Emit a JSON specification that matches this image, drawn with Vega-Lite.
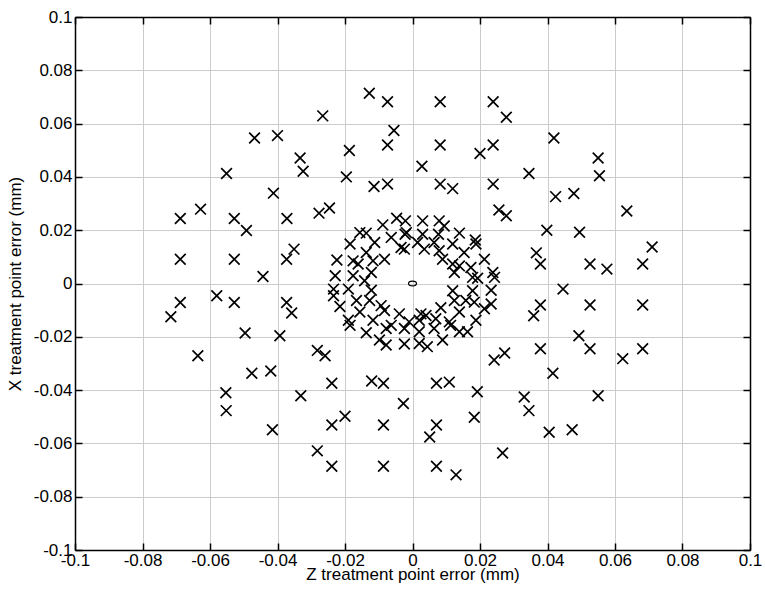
{
  "$schema": "https://vega.github.io/schema/vega-lite/v6.json",
  "width": 675,
  "height": 533,
  "autosize": "none",
  "padding": {"left": 75, "top": 17, "right": 15, "bottom": 44},
  "background": "white",
  "config": {
    "view": {"stroke": null},
    "axis": {
      "domainColor": "black",
      "domainWidth": 1.5,
      "tickColor": "black",
      "tickWidth": 1.5,
      "tickSize": -7,
      "labelFont": "Liberation Sans",
      "labelFontSize": 17,
      "labelColor": "black",
      "labelFlush": false,
      "labelOverlap": false,
      "titleFont": "Liberation Sans",
      "titleFontSize": 17,
      "titleFontWeight": "normal",
      "titleColor": "black",
      "gridColor": "#cccccc",
      "gridWidth": 1,
      "gridOpacity": 1
    }
  },
  "layer": [
    {
      "data": {"values": [
        {"x": -0.0468, "y": 0.0546}, {"x": -0.040, "y": 0.0555}, {"x": -0.0333, "y": 0.0471}, {"x": -0.0324, "y": 0.0421},
        {"x": -0.0551, "y": 0.0413}, {"x": -0.0412, "y": 0.0339}, {"x": -0.0628, "y": 0.0279}, {"x": -0.0688, "y": 0.0244},
        {"x": -0.0528, "y": 0.0244}, {"x": -0.0492, "y": 0.0199}, {"x": -0.0372, "y": 0.0244}, {"x": -0.0351, "y": 0.0129},
        {"x": -0.0373, "y": 0.0091}, {"x": -0.0688, "y": 0.0091}, {"x": -0.0528, "y": 0.0091}, {"x": -0.0443, "y": 0.0026},
        {"x": -0.0266, "y": 0.0629}, {"x": -0.0128, "y": 0.0714}, {"x": -0.0074, "y": 0.0682}, {"x": 0.0082, "y": 0.0682},
        {"x": 0.0239, "y": 0.0682}, {"x": 0.0278, "y": 0.0624}, {"x": -0.0055, "y": 0.0574}, {"x": -0.0074, "y": 0.052},
        {"x": 0.0082, "y": 0.052}, {"x": 0.0239, "y": 0.052}, {"x": 0.020, "y": 0.0488}, {"x": -0.0187, "y": 0.0499},
        {"x": 0.0028, "y": 0.044}, {"x": -0.0196, "y": 0.040}, {"x": -0.0114, "y": 0.0364}, {"x": -0.0074, "y": 0.0373},
        {"x": 0.0082, "y": 0.0373}, {"x": 0.0119, "y": 0.0356}, {"x": 0.0239, "y": 0.0373}, {"x": -0.0277, "y": 0.0264},
        {"x": -0.0246, "y": 0.0283}, {"x": 0.0256, "y": 0.0276}, {"x": 0.0278, "y": 0.0254},
        {"x": 0.0419, "y": 0.0546}, {"x": 0.055, "y": 0.0471}, {"x": 0.0554, "y": 0.0404}, {"x": 0.0345, "y": 0.0413},
        {"x": 0.0424, "y": 0.0326}, {"x": 0.0478, "y": 0.0338}, {"x": 0.0635, "y": 0.0272}, {"x": 0.0398, "y": 0.020},
        {"x": 0.0495, "y": 0.0192}, {"x": 0.0367, "y": 0.0115}, {"x": 0.0379, "y": 0.0073}, {"x": 0.0526, "y": 0.0073},
        {"x": 0.0576, "y": 0.0054}, {"x": 0.0682, "y": 0.0073}, {"x": 0.071, "y": 0.0137},
        {"x": -0.0688, "y": -0.0071}, {"x": -0.0716, "y": -0.0125}, {"x": -0.058, "y": -0.0046}, {"x": -0.0528, "y": -0.0071},
        {"x": -0.0373, "y": -0.0071}, {"x": -0.0358, "y": -0.0111}, {"x": -0.0496, "y": -0.0186}, {"x": -0.0393, "y": -0.0196},
        {"x": -0.0636, "y": -0.0271}, {"x": -0.0476, "y": -0.0337}, {"x": -0.042, "y": -0.0328}, {"x": -0.0553, "y": -0.041},
        {"x": -0.0552, "y": -0.0477}, {"x": -0.0331, "y": -0.0421}, {"x": -0.0415, "y": -0.0549},
        {"x": -0.0282, "y": -0.0251}, {"x": -0.0259, "y": -0.0271}, {"x": -0.0239, "y": -0.0374}, {"x": -0.0121, "y": -0.0366},
        {"x": -0.0086, "y": -0.0374}, {"x": 0.0071, "y": -0.0374}, {"x": 0.0109, "y": -0.037}, {"x": 0.0242, "y": -0.0287},
        {"x": 0.0273, "y": -0.0261}, {"x": 0.0192, "y": -0.0406}, {"x": -0.0027, "y": -0.045}, {"x": -0.020, "y": -0.0498},
        {"x": -0.0239, "y": -0.0531}, {"x": -0.0086, "y": -0.0531}, {"x": 0.0071, "y": -0.0531}, {"x": 0.0051, "y": -0.0576},
        {"x": 0.0183, "y": -0.0502}, {"x": -0.0282, "y": -0.0628}, {"x": -0.0239, "y": -0.0686}, {"x": -0.0086, "y": -0.0686},
        {"x": 0.0071, "y": -0.0686}, {"x": 0.0129, "y": -0.0718}, {"x": 0.0267, "y": -0.0636},
        {"x": 0.0446, "y": -0.0021}, {"x": 0.0379, "y": -0.0081}, {"x": 0.0359, "y": -0.0121}, {"x": 0.0526, "y": -0.0081},
        {"x": 0.0682, "y": -0.0081}, {"x": 0.0493, "y": -0.0196}, {"x": 0.0379, "y": -0.0245}, {"x": 0.0526, "y": -0.0245},
        {"x": 0.0682, "y": -0.0245}, {"x": 0.0623, "y": -0.0282}, {"x": 0.0416, "y": -0.0337}, {"x": 0.0331, "y": -0.0426},
        {"x": 0.0345, "y": -0.0477}, {"x": 0.055, "y": -0.0421}, {"x": 0.0405, "y": -0.0558}, {"x": 0.0473, "y": -0.0549},
        {"x": -0.0047, "y": 0.0245}, {"x": -0.0021, "y": 0.0235}, {"x": 0.003, "y": 0.0235}, {"x": 0.0079, "y": 0.0235},
        {"x": 0.0094, "y": 0.0216}, {"x": -0.0088, "y": 0.022}, {"x": -0.0018, "y": 0.0191}, {"x": -0.0022, "y": 0.0185},
        {"x": -0.0156, "y": 0.0191}, {"x": -0.0137, "y": 0.0189}, {"x": 0.0139, "y": 0.0189}, {"x": 0.003, "y": 0.0185},
        {"x": 0.0077, "y": 0.0185}, {"x": -0.0063, "y": 0.0173}, {"x": -0.0185, "y": 0.0148}, {"x": -0.0112, "y": 0.0154},
        {"x": -0.0034, "y": 0.0135}, {"x": -0.0024, "y": 0.0129}, {"x": 0.0015, "y": 0.0154}, {"x": 0.0035, "y": 0.0129},
        {"x": 0.0064, "y": 0.0154}, {"x": 0.0119, "y": 0.0148}, {"x": 0.0186, "y": 0.0163}, {"x": 0.0188, "y": 0.0148},
        {"x": -0.0137, "y": 0.0116}, {"x": -0.0083, "y": 0.0091}, {"x": 0.0079, "y": 0.0123}, {"x": 0.0089, "y": 0.0091},
        {"x": 0.0153, "y": 0.0116}, {"x": -0.0224, "y": 0.0088}, {"x": -0.0176, "y": 0.0085}, {"x": -0.0161, "y": 0.0073},
        {"x": -0.0117, "y": 0.0085}, {"x": 0.0119, "y": 0.0073}, {"x": 0.0139, "y": 0.0066}, {"x": 0.0173, "y": 0.006},
        {"x": 0.0213, "y": 0.0091}, {"x": -0.0229, "y": 0.0029}, {"x": -0.0176, "y": 0.0029}, {"x": -0.0122, "y": 0.0041},
        {"x": -0.0142, "y": 0.001}, {"x": 0.0124, "y": 0.0041}, {"x": 0.0178, "y": 0.0023}, {"x": 0.0238, "y": 0.0041},
        {"x": 0.0243, "y": 0.0023}, {"x": 0.0193, "y": 0.002}, {"x": -0.0234, "y": -0.0021}, {"x": -0.019, "y": -0.0021},
        {"x": -0.0122, "y": -0.0025}, {"x": 0.0119, "y": -0.0027}, {"x": 0.0178, "y": -0.0027}, {"x": 0.0233, "y": -0.0025},
        {"x": -0.0234, "y": -0.0046}, {"x": -0.0166, "y": -0.0064}, {"x": -0.0127, "y": -0.0064}, {"x": -0.0215, "y": -0.0086},
        {"x": -0.0093, "y": -0.0083}, {"x": 0.0124, "y": -0.0064}, {"x": 0.0158, "y": -0.0064}, {"x": 0.0183, "y": -0.007},
        {"x": 0.0233, "y": -0.0077}, {"x": 0.0213, "y": -0.0095}, {"x": -0.0156, "y": -0.0107}, {"x": -0.0083, "y": -0.0101},
        {"x": -0.0039, "y": -0.0114}, {"x": 0.0025, "y": -0.0114}, {"x": 0.004, "y": -0.012}, {"x": 0.0084, "y": -0.0091},
        {"x": 0.0139, "y": -0.0107}, {"x": -0.019, "y": -0.0138}, {"x": -0.0185, "y": -0.0157}, {"x": -0.0117, "y": -0.0138},
        {"x": -0.0063, "y": -0.0157}, {"x": -0.001, "y": -0.0144}, {"x": 0.002, "y": -0.0138}, {"x": 0.0069, "y": -0.0132},
        {"x": 0.0109, "y": -0.0144}, {"x": 0.0113, "y": -0.0157}, {"x": 0.0188, "y": -0.0138}, {"x": -0.0137, "y": -0.0185},
        {"x": -0.0078, "y": -0.0169}, {"x": -0.0024, "y": -0.0169}, {"x": 0.002, "y": -0.0181}, {"x": 0.0064, "y": -0.0169},
        {"x": 0.0139, "y": -0.0181}, {"x": 0.0163, "y": -0.0181}, {"x": -0.0098, "y": -0.0212}, {"x": -0.0078, "y": -0.0231},
        {"x": -0.0024, "y": -0.0227}, {"x": 0.002, "y": -0.0225}, {"x": 0.0044, "y": -0.0237}, {"x": 0.0089, "y": -0.0212}
      ]},
      "mark": {"type": "point", "shape": "M-1,-1L1,1M-1,1L1,-1", "size": 115, "filled": false, "stroke": "black", "strokeWidth": 1.7, "opacity": 1},
      "encoding": {
        "x": {
          "field": "x", "type": "quantitative",
          "scale": {"domain": [-0.1, 0.1], "nice": false, "zero": false},
          "axis": {
            "orient": "bottom",
            "values": [-0.1, -0.08, -0.06, -0.04, -0.02, 0, 0.02, 0.04, 0.06, 0.08, 0.1],
            "labelExpr": "'' + datum.value",
            "labelPadding": 9,
            "grid": true,
            "title": "Z treatment point error (mm)",
            "titleBaseline": "alphabetic",
            "titleY": 29
          }
        },
        "y": {
          "field": "y", "type": "quantitative",
          "scale": {"domain": [-0.1, 0.1], "nice": false, "zero": false},
          "axis": {
            "orient": "left",
            "values": [-0.1, -0.08, -0.06, -0.04, -0.02, 0, 0.02, 0.04, 0.06, 0.08, 0.1],
            "labelExpr": "'' + datum.value",
            "labelPadding": 10,
            "grid": true,
            "title": "X treatment point error (mm)",
            "titleBaseline": "alphabetic",
            "titleAngle": -90,
            "titleX": -55
          }
        }
      }
    },
    {
      "data": {"values": [{"x": 0, "y": 0}]},
      "mark": {"type": "point", "shape": "M-1,0A1,0.6,0,1,0,1,0A1,0.6,0,1,0,-1,0", "size": 64, "filled": false, "stroke": "black", "strokeWidth": 1.2, "opacity": 1},
      "encoding": {
        "x": {
          "field": "x", "type": "quantitative",
          "scale": {"domain": [-0.1, 0.1], "nice": false, "zero": false},
          "axis": {
            "orient": "top",
            "values": [-0.1, -0.08, -0.06, -0.04, -0.02, 0, 0.02, 0.04, 0.06, 0.08, 0.1],
            "labels": false,
            "grid": false,
            "title": null
          }
        },
        "y": {
          "field": "y", "type": "quantitative",
          "scale": {"domain": [-0.1, 0.1], "nice": false, "zero": false},
          "axis": {
            "orient": "right",
            "values": [-0.1, -0.08, -0.06, -0.04, -0.02, 0, 0.02, 0.04, 0.06, 0.08, 0.1],
            "labels": false,
            "grid": false,
            "title": null
          }
        }
      }
    }
  ],
  "resolve": {"axis": {"x": "independent", "y": "independent"}}
}
